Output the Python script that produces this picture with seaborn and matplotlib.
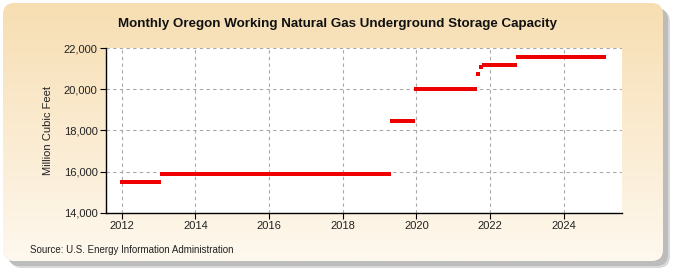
import numpy as np
import pandas as pd
import matplotlib
matplotlib.use("Agg")
import matplotlib.pyplot as plt
import seaborn as sns
from matplotlib.patches import FancyBboxPatch
from matplotlib.ticker import FuncFormatter

# ---- data (runs of constant monthly capacity) ----
run_start = ["2012-01", "2013-02", "2019-05", "2020-01", "2021-09", "2021-10", "2021-11", "2022-10"]
run_end = ["2013-01", "2019-04", "2019-12", "2021-08", "2021-09", "2021-10", "2022-09", "2025-02"]
run_value = [15500, 15900, 18450, 20000, 20750, 21100, 21150, 21550]
x_ticks = [2012, 2014, 2016, 2018, 2020, 2022, 2024]
y_ticks = [14000, 16000, 18000, 20000, 22000]

title = "Monthly Oregon Working Natural Gas Underground Storage Capacity"
y_label = "Million Cubic Feet"
source = "Source: U.S. Energy Information Administration"

rows = []
for s, e, v in zip(run_start, run_end, run_value):
    for p in pd.period_range(s, e, freq="M"):
        rows.append({"t": p.year + (p.month - 1) / 12.0, "value": v})
df = pd.DataFrame(rows)

sns.set_style("white")
plt.rcParams["font.family"] = ["Liberation Sans", "DejaVu Sans"]

W, H = 675, 275
fig = plt.figure(figsize=(W / 100, H / 100), dpi=100)
fig.patch.set_facecolor("white")

# background panel with shadow and gradient
bg = fig.add_axes([0, 0, 1, 1], zorder=-5)
for off, col in [(7, "#d8d8d8"), (5, "#bcbcbc")]:
    sh = FancyBboxPatch((3 + off, 3 + off), 660, 258,
                        boxstyle="round,pad=0,rounding_size=12",
                        fc=col, ec="none", zorder=1)
    bg.add_patch(sh)
panel = FancyBboxPatch((3, 3), 660, 258, boxstyle="round,pad=0,rounding_size=12",
                       fc="#fbeed8", ec="none", zorder=2)
bg.add_patch(panel)
top = np.array([247, 222, 178]) / 255
bot = np.array([254, 248, 238]) / 255
n = 256
frac = np.linspace(0, 1, n)[:, None]
grad = (top[None, :] * (1 - frac) + bot[None, :] * frac)
img = np.repeat(grad[:, None, :], 2, axis=1)
im = bg.imshow(img, extent=[3, 663, 261, 3], aspect="auto",
               interpolation="bilinear", zorder=3)
im.set_clip_path(panel)
bg.set_xlim(0, W)
bg.set_ylim(H, 0)
bg.axis("off")

# main axes
ax = fig.add_axes([106 / W, 1 - 212.7 / H, (622 - 106) / W, (212.7 - 48) / H])
ax.set_facecolor("white")
sns.scatterplot(data=df, x="t", y="value", marker="s", s=8.5, color="#EE0000",
                linewidth=0, ax=ax, zorder=3, legend=False)

ax.set_xlim(2011.57, 2025.58)
ax.set_ylim(14000, 22000)
ax.set_xticks(x_ticks)
ax.set_yticks(y_ticks)
ax.yaxis.set_major_formatter(FuncFormatter(lambda v, p: f"{int(v):,}"))
ax.grid(True, linestyle=(0, (3, 3)), color="#a8a8a8", linewidth=0.8)
ax.set_axisbelow(True)
for sp in ["top", "right"]:
    ax.spines[sp].set_visible(False)
for sp in ["left", "bottom"]:
    ax.spines[sp].set_color("black")
    ax.spines[sp].set_linewidth(1.0)
ax.tick_params(axis="both", which="major", direction="out", length=4, width=0.8,
               color="black", labelsize=8, labelcolor="#222222", pad=2)
ax.tick_params(axis="x", bottom=True)
ax.tick_params(axis="y", left=True)
ax.set_xlabel("")
ax.set_ylabel(y_label, fontsize=8, color="#222222", labelpad=8)

fig.text(337 / W, 1 - 24 / H, title, ha="center", va="center", fontsize=9.6,
         fontweight="bold", color="#111111")
fig.text(30 / W, 1 - 250 / H, source, ha="left", va="center", fontsize=7,
         color="#222222")

fig.savefig("out.png", dpi=100)
